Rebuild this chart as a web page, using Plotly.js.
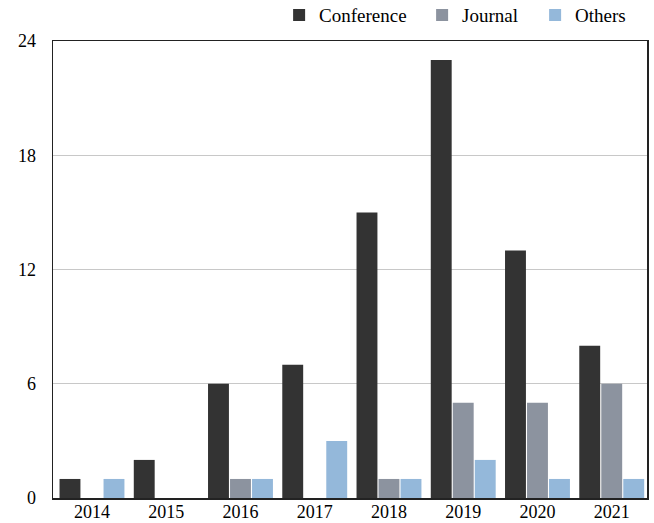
<!DOCTYPE html>
<html>
<head>
<meta charset="utf-8">
<script src="https://cdn.plot.ly/plotly-3.0.1.min.js"></script>
<style>html,body{margin:0;padding:0;background:#fff;}#chart{width:654px;height:523px;}</style>
</head>
<body>
<div id="chart"></div>
<script>
const years = ["2014","2015","2016","2017","2018","2019","2020","2021"];
const conference = [1, 2, 6, 7, 15, 23, 13, 8];
const journal = [0, 0, 1, 0, 1, 5, 5, 6];
const others = [1, 0, 1, 3, 1, 2, 1, 1];
const yTicks = [0, 6, 12, 18, 24];

const font = {family: "Liberation Serif, DejaVu Serif, serif", size: 18, color: "#000"};
const legendFont = {family: "Liberation Serif, DejaVu Serif, serif", size: 19, color: "#000"};

const traces = [
  {type: "bar", name: "Conference", x: years, y: conference, marker: {color: "#333333"}, legendwidth: 98},
  {type: "bar", name: "Journal", x: years, y: journal, marker: {color: "#8c939f"}, legendwidth: 68},
  {type: "bar", name: "Others", x: years, y: others, marker: {color: "#94b8da"}}
];

const layout = {
  width: 654, height: 523,
  margin: {l: 53, r: 7, t: 41, b: 25, pad: 0, autoexpand: false},
  paper_bgcolor: "#fff", plot_bgcolor: "#fff",
  font: font,
  barmode: "group", bargap: 0.111, bargroupgap: 0.05,
  showlegend: true,
  legend: {orientation: "h", xref: "container", yref: "container",
           x: 0.965, xanchor: "right", y: 0.971, yanchor: "middle",
           font: legendFont, bgcolor: "rgba(0,0,0,0)", itemwidth: 30, traceorder: "normal"},
  xaxis: {type: "category", range: [-0.525, 7.475], showgrid: false, zeroline: false,
          showline: true, linecolor: "#222", linewidth: 1.5, mirror: true,
          ticks: "", ticklabelstandoff: -3, tickfont: font, fixedrange: true},
  yaxis: {range: [0, 24], tickvals: yTicks, ticktext: yTicks.map(String),
          showgrid: true, gridcolor: "#c8c8c8", gridwidth: 1, zeroline: false,
          showline: true, linecolor: "#222", linewidth: 1.5, mirror: true,
          ticks: "", ticklabelstandoff: 12, tickfont: font, fixedrange: true}
};

Plotly.newPlot("chart", traces, layout, {displayModeBar: false, staticPlot: true});
</script>
</body>
</html>
